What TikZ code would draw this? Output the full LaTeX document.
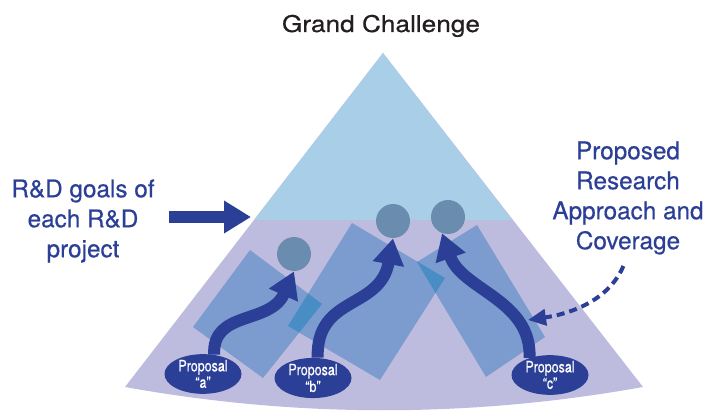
\documentclass[tikz,border=0pt]{standalone}
\usepackage{fontspec}
\setmainfont{TeX Gyre Heros}[FakeBold=0.5]
\newfontfamily\titlefont[FakeStretch=1.14, FakeBold=0.6]{TeX Gyre Heros}
\newfontfamily\condfont[FakeStretch=0.8, FakeBold=0.5]{TeX Gyre Heros}
\usetikzlibrary{arrows.meta, shapes.geometric}

\definecolor{GCSky}{RGB}{169,206,232}
\definecolor{GCLavender}{RGB}{190,188,222}
\definecolor{GCBlock}{RGB}{124,155,206}
\definecolor{GCTeal}{RGB}{72,142,196}
\definecolor{GCGoal}{RGB}{105,140,175}
\definecolor{GCNavy}{RGB}{43,63,150}
\definecolor{GCInk}{RGB}{35,31,32}

\begin{document}
\begin{tikzpicture}[x=0.5pt, y=-0.5pt,
  sidetext/.style={text=GCNavy, align=center, inner sep=0pt, font=\fontsize{12.15}{15}\selectfont},
  goal/.style={circle, fill=GCGoal, minimum size=17pt, inner sep=0pt},
  proposal/.style={ellipse, fill=GCNavy, text=white, minimum width=38.5pt, minimum height=18pt, inner sep=0pt, align=center, font=\condfont\fontsize{7.8}{6.2}\selectfont},
  path arrow/.style={GCNavy, line width=6pt, -{Triangle[width=15pt,length=13pt]}},
  goal arrow/.style={GCNavy, line width=6pt, -{Triangle[width=15.5pt,length=13.5pt]}},
  cover arrow/.style={GCNavy, line width=2pt, dash pattern=on 4pt off 2.5pt, -{Triangle[width=8pt,length=9pt]}}]

\useasboundingbox (0,0) rectangle (707,411);

\coordinate (apex) at (383,53);
\fill[GCLavender] (125,387) -- (apex) -- (643,387) .. controls (470,418) and (297,418) .. (125,387) -- cycle;
\fill[GCSky] (apex) -- (254,220) -- (512,220) -- cycle;

\fill[GCBlock] (193,327) -- (250,250) -- (322,304) -- (263,378) -- cycle;
\fill[GCBlock] (288,326) -- (352,223) -- (445,278) -- (380,380) -- cycle;
\fill[GCBlock] (417,262) -- (477,225) -- (545,337) -- (486,377) -- cycle;

\begin{scope}
  \clip (193,327) -- (250,250) -- (322,304) -- (263,378) -- cycle;
  \fill[GCTeal] (288,326) -- (352,223) -- (445,278) -- (380,380) -- cycle;
\end{scope}
\begin{scope}
  \clip (288,326) -- (352,223) -- (445,278) -- (380,380) -- cycle;
  \fill[GCTeal] (417,262) -- (477,225) -- (545,337) -- (486,377) -- cycle;
\end{scope}

\node[goal] (goalA) at (294,254) {};
\node[goal] (goalB) at (393,221) {};
\node[goal] (goalC) at (448,217) {};

\node[proposal] (propA) at (203,374) {Proposal\\“a”};
\node[proposal] (propB) at (313,378) {Proposal\\“b”};
\node[proposal] (propC) at (550,375) {Proposal\\“c”};

\draw[path arrow] (propA.60) .. controls (212,310) and (270,325) .. (goalA.south);
\draw[path arrow] (propB.77) .. controls (316,295) and (380,310) .. (goalB.south);
\draw[path arrow] (propC.140) .. controls (532,300) and (462,290) .. (goalC.250);

\node[font=\titlefont\fontsize{11.5}{14}\selectfont, text=GCInk, anchor=base] (title) at (381,32) {Grand Challenge};

\node[sidetext] (goals) at (83,221) {R\&D goals of\\each R\&D\\project};
\node[sidetext] (approach) at (628,198) {Proposed\\Research\\Approach and\\Coverage};

\coordinate (edgeL) at (251,217);
\draw[goal arrow, shorten <=7pt] (goals.east |- edgeL) -- (edgeL);

\coordinate (covTip) at (528,320);
\draw[cover arrow, shorten <=6pt] (approach.south) .. controls (610,298) and (575,313) .. (covTip);

\end{tikzpicture}
\end{document}
